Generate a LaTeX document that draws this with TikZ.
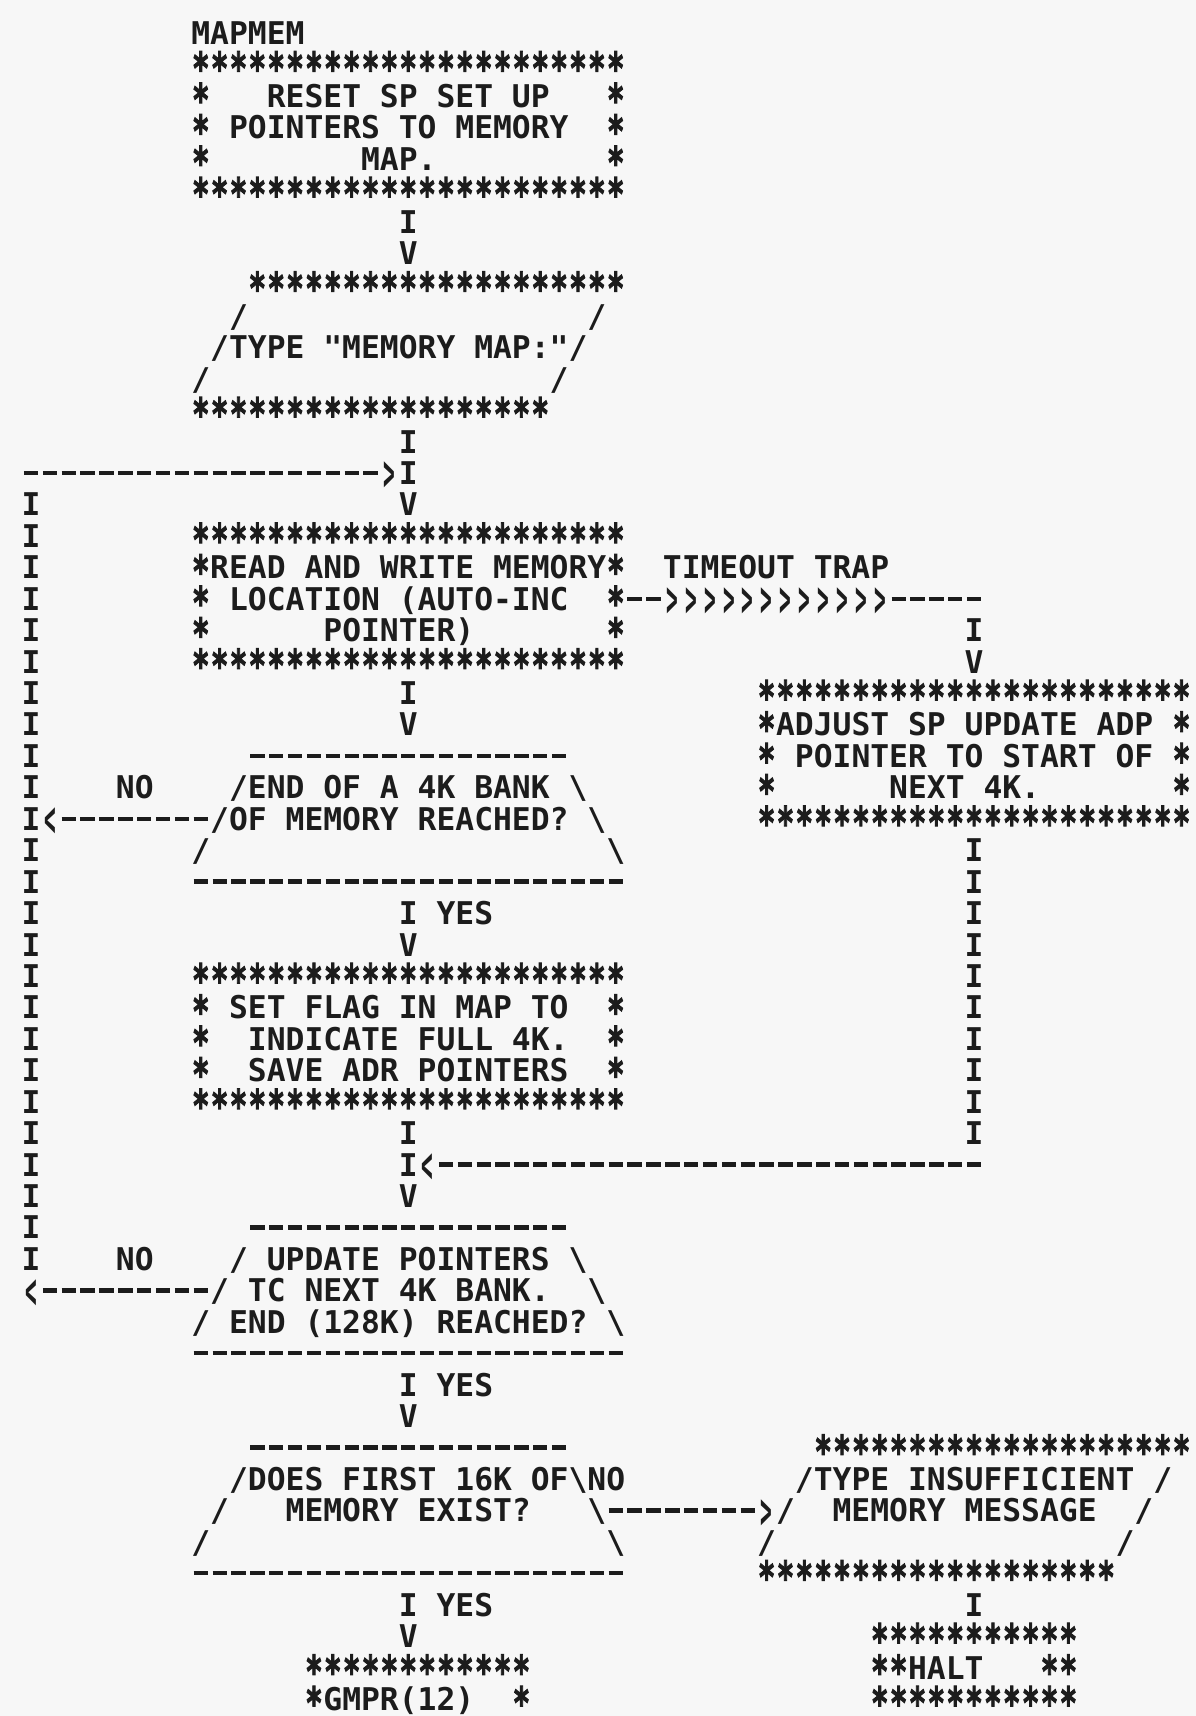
\documentclass[tikz,border=0pt]{standalone}
\usepackage{fontspec}
\usepackage{graphicx}
\usepackage{xcolor}
\usepackage{tikz}
\usetikzlibrary{decorations.markings}

\newfontfamily\plotfont{DejaVu Sans Mono}
\newfontfamily\starfont{DejaVu Sans Mono}[FakeBold=2.5]
\definecolor{ink}{HTML}{1C1C1C}
\definecolor{paper}{HTML}{F7F7F7}

% character grid: one column = 0.3cm, one line = 0.5cm
\newdimen\cw \cw=0.3cm
\newdimen\lnht \lnht=12.28pt
\newdimen\lndp \lndp=1.9464pt
\newcommand\plotsetup{\plotfont\bfseries\fontsize{14.18pt}{14.2264pt}\selectfont\spaceskip=\cw\relax\xspaceskip=\cw\relax}
\newcommand\gap[1]{\kern#1\cw}
\newcommand\sta{\makebox[\cw]{\raisebox{-3.6pt}{\starfont\bfseries\scalebox{0.92}[1.4]{*}}}}
\newcommand\dshr{\rule[4.2pt]{0.76\cw}{2pt}}
\newcommand\dsh{\makebox[\cw]{\dshr}}
\newcommand\bsl{\textbackslash}
\newcommand\rarr{\raisebox{-2.9pt}{\scalebox{0.62}[1.6]{>}}}
\newcommand\larr{\raisebox{-2.9pt}{\scalebox{0.62}[1.6]{<}}}
\newcommand\stars[1]{\foreach \k in {1,...,#1}{\sta}}
\newcommand\dashes[1]{\foreach \k in {1,...,#1}{\dsh}}
\newcommand\pline[1]{\hbox{\vrule width0pt height\lnht depth\lndp\raisebox{0pt}[0pt][0pt]{#1}}}

\begin{document}
\begin{tikzpicture}[x=0.3cm, y=-0.5cm,
    box/.style={inner sep=0pt, outer sep=0pt, anchor=north west, font=\plotsetup, text=ink},
    chr/.style={inner sep=0pt, outer sep=0pt, font=\plotsetup, text=ink, text height=11.84pt, text depth=1.5pt},
    vflow/.style={draw=none, postaction={decorate, decoration={markings,
        mark=between positions 0.25cm and -0.6cm step 0.5cm with {\node[chr] {I};},
        mark=at position -0.25cm with {\node[chr] {V};}}}},
    vline/.style={draw=none, postaction={decorate, decoration={markings,
        mark=between positions 0.25cm and -0.1cm step 0.5cm with {\node[chr] {I};}}}},
    hright/.style={draw=none, postaction={decorate, decoration={markings,
        mark=between positions 0.15cm and -0.36cm step 0.3cm with {\node[chr] {\dshr};},
        mark=at position -0.15cm with {\node[chr] {\rarr};}}}},
    hleft/.style={draw=none, postaction={decorate, decoration={markings,
        mark=between positions 0.15cm and -0.36cm step 0.3cm with {\node[chr] {\dshr};},
        mark=at position -0.15cm with {\node[chr] {\larr};}}}},
    trapline/.style={draw=none, postaction={decorate, decoration={markings,
        mark=between positions 0.15cm and 0.5cm step 0.3cm with {\node[chr] {\dshr};},
        mark=between positions 0.75cm and 4.1cm step 0.3cm with {\node[chr] {\rarr};},
        mark=between positions 4.35cm and -0.1cm step 0.3cm with {\node[chr] {\dshr};}}}},
  ]
    \path[use as bounding box, fill=paper] (-0.647,-1.05) rectangle (62.76,53.54);

    % Title
    \node[chr] (title) at (12.5,0) {MAPMEM};

    % Main column
    \node[box] (reset) at (9.5,0.5) {\vbox{\offinterlineskip
      \pline{\stars{23}}
      \pline{\sta\gap{3}RESET SP SET UP\gap{3}\sta}
      \pline{\sta\gap{1}POINTERS TO MEMORY\gap{2}\sta}
      \pline{\sta\gap{8}MAP.\gap{9}\sta}
      \pline{\stars{23}}}};
    \node[box] (show) at (9.5,7.5) {\vbox{\offinterlineskip
      \pline{\gap{3}\stars{20}}
      \pline{\gap{2}/\gap{18}/}
      \pline{\gap{1}/TYPE "MEMORY MAP:"/}
      \pline{/\gap{18}/}
      \pline{\stars{19}}}};
    \node[box] (rw) at (9.5,15.5) {\vbox{\offinterlineskip
      \pline{\stars{23}}
      \pline{\sta READ AND WRITE MEMORY\sta}
      \pline{\sta\gap{1}LOCATION (AUTO-INC\gap{2}\sta}
      \pline{\sta\gap{6}POINTER)\gap{7}\sta}
      \pline{\stars{23}}}};
    \node[box] (dec1) at (9.5,22.5) {\vbox{\offinterlineskip
      \pline{\gap{3}\dashes{17}}
      \pline{\gap{2}/END OF A 4K BANK\gap{1}\bsl}
      \pline{\gap{1}/OF MEMORY REACHED?\gap{1}\bsl}
      \pline{/\gap{21}\bsl}
      \pline{\dashes{23}}}};
    \node[box] (flag) at (9.5,29.5) {\vbox{\offinterlineskip
      \pline{\stars{23}}
      \pline{\sta\gap{1}SET FLAG IN MAP TO\gap{2}\sta}
      \pline{\sta\gap{2}INDICATE FULL 4K.\gap{2}\sta}
      \pline{\sta\gap{2}SAVE ADR POINTERS\gap{2}\sta}
      \pline{\stars{23}}}};
    \node[box] (dec2) at (9.5,37.5) {\vbox{\offinterlineskip
      \pline{\gap{3}\dashes{17}}
      \pline{\gap{2}/\gap{1}UPDATE POINTERS\gap{1}\bsl}
      \pline{\gap{1}/\gap{1}TC NEXT 4K BANK.\gap{2}\bsl}
      \pline{/\gap{1}END (128K) REACHED?\gap{1}\bsl}
      \pline{\dashes{23}}}};
    \node[box] (dec3) at (9.5,44.5) {\vbox{\offinterlineskip
      \pline{\gap{3}\dashes{17}}
      \pline{\gap{2}/DOES FIRST 16K OF\bsl}
      \pline{\gap{1}/\gap{3}MEMORY EXIST?\gap{3}\bsl}
      \pline{/\gap{21}\bsl}
      \pline{\dashes{23}}}};
    \node[box] (gmpr) at (15.5,51.5) {\vbox{\offinterlineskip
      \pline{\stars{12}}
      \pline{\sta GMPR(12)\gap{2}\sta}}};

    % Right column
    \node[box] (adj) at (39.5,20.5) {\vbox{\offinterlineskip
      \pline{\stars{23}}
      \pline{\sta ADJUST SP UPDATE ADP\gap{1}\sta}
      \pline{\sta\gap{1}POINTER TO START OF\gap{1}\sta}
      \pline{\sta\gap{6}NEXT 4K.\gap{7}\sta}
      \pline{\stars{23}}}};
    \node[box] (ins) at (39.5,44.5) {\vbox{\offinterlineskip
      \pline{\gap{3}\stars{20}}
      \pline{\gap{2}/TYPE INSUFFICIENT\gap{1}/}
      \pline{\gap{1}/\gap{2}MEMORY MESSAGE\gap{2}/}
      \pline{/\gap{18}/}
      \pline{\stars{19}}}};
    \node[box] (halt) at (45.5,50.5) {\vbox{\offinterlineskip
      \pline{\stars{11}}
      \pline{\sta\sta HALT\gap{3}\sta\sta}
      \pline{\stars{11}}}};

    % Labels
    \node[chr] (trap) at (40.5,17) {TIMEOUT TRAP};
    \node[chr] (no1) at (6.5,24) {NO};
    \node[chr] (yes1) at (24,28) {YES};
    \node[chr] (no2) at (6.5,39) {NO};
    \node[chr] (yes2) at (24,43) {YES};
    \node[chr] (no3) at (31.5,46) {NO};
    \node[chr] (yes3) at (24,50) {YES};

    % Corner points
    \coordinate (spine) at (21,0);
    \coordinate (rcol) at (51,0);
    \coordinate (loopA) at (0.5,14);
    \coordinate (loopB) at (1,14.5);
    \coordinate (loopC) at (1,39.5);
    \coordinate (loopD) at (0.5,40);
    \coordinate (loopE) at (1.5,25);
    \coordinate (mergeA) at (20.5,14);
    \coordinate (trapA) at (51.5,18);
    \coordinate (trapB) at (51,18.5);
    \coordinate (backA) at (51,35.5);
    \coordinate (backB) at (51.5,36);
    \coordinate (backC) at (21.5,36);

    % Flow down the main column
    \draw[vflow] (reset.south -| spine) -- (show.north -| spine);
    \draw[vflow] (show.south -| spine) -- (rw.north -| spine);
    \draw[vflow] (rw.south -| spine) -- (dec1.north -| spine);
    \draw[vflow] (dec1.south -| spine) -- (flag.north -| spine);
    \draw[vflow] (flag.south -| spine) -- (dec2.north -| spine);
    \draw[vflow] (dec2.south -| spine) -- (dec3.north -| spine);
    \draw[vflow] (dec3.south -| spine) -- (gmpr.north -| spine);

    % Loop back on the left
    \draw[hleft] ([xshift=0.3cm]dec1.west) -- (loopE);
    \draw[hleft] ([xshift=0.3cm]dec2.west) -- (loopD);
    \draw[vline] (loopB) -- (loopC);
    \draw[hright] (loopA) -- (mergeA);

    % Timeout trap and return
    \draw[trapline] (rw.east) -- (trapA);
    \draw[vflow] (trapB) -- (adj.north -| rcol);
    \draw[vline] (adj.south -| rcol) -- (backA);
    \draw[hleft] (backB) -- (backC);

    % Insufficient memory
    \draw[hright] ([xshift=-0.3cm]dec3.east) -- ([xshift=0.3cm]ins.west);
    \draw[vline] (ins.south -| rcol) -- (halt.north -| rcol);
\end{tikzpicture}
\end{document}
